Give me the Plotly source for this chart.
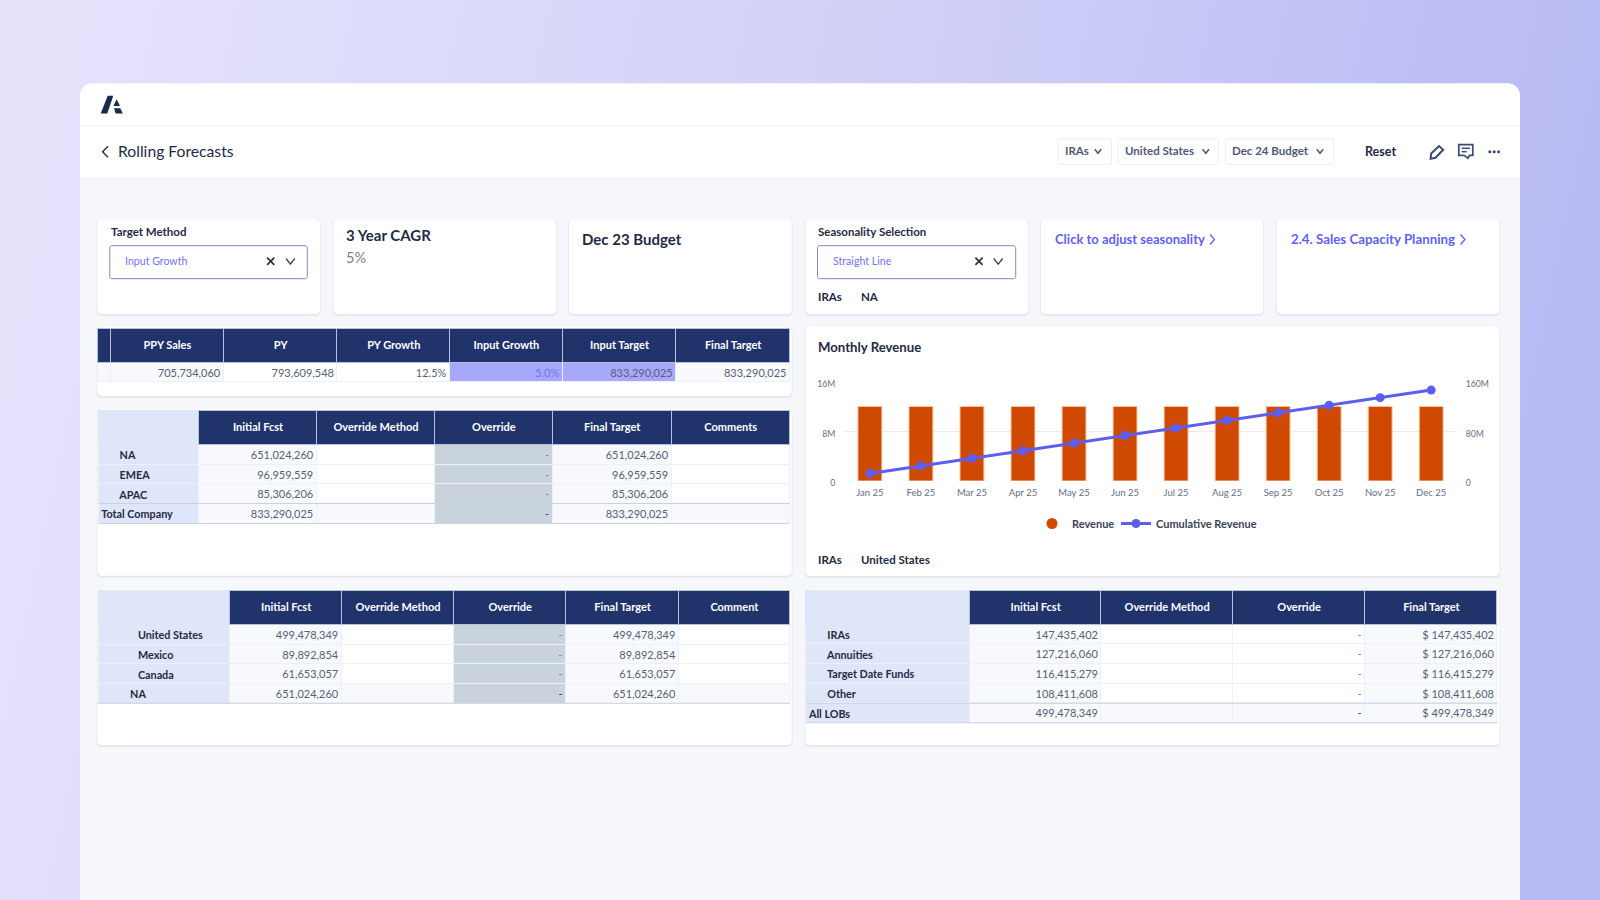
import base64
import plotly.graph_objects as go

# ---------- data ----------
months = ["Jan 25","Feb 25","Mar 25","Apr 25","May 25","Jun 25","Jul 25","Aug 25","Sep 25","Oct 25","Nov 25","Dec 25"]
revenue = [12100000]*12
cumulative = [12300000,24600000,36900000,49100000,61400000,73700000,86000000,98300000,110600000,122900000,135100000,147400000]

t1_head = ["","PPY Sales","PY","PY Growth","Input Growth","Input Target","Final Target"]
t1_row = ["","705,734,060","793,609,548","12.5%","5.0%","833,290,025","833,290,025"]

t2_head = ["","Initial Fcst","Override Method","Override","Final Target","Comments"]
t2_labels = ["NA","EMEA","APAC","Total Company"]
t2_init = ["651,024,260","96,959,559","85,306,206","833,290,025"]
t2_final = ["651,024,260","96,959,559","85,306,206","833,290,025"]

t3_head = ["","Initial Fcst","Override Method","Override","Final Target","Comment"]
t3_labels = ["United States","Mexico","Canada","NA"]
t3_init = ["499,478,349","89,892,854","61,653,057","651,024,260"]
t3_final = ["499,478,349","89,892,854","61,653,057","651,024,260"]

t4_head = ["","Initial Fcst","Override Method","Override","Final Target"]
t4_labels = ["IRAs","Annuities","Target Date Funds","Other","All LOBs"]
t4_init = ["147,435,402","127,216,060","116,415,279","108,411,608","499,478,349"]
t4_final = ["$ 147,435,402","$ 127,216,060","$ 116,415,279","$ 108,411,608","$ 499,478,349"]

# ---------- helpers ----------
W, H = 1600, 900
FONT = "Lato"
NAVY = "#20336b"; LBL = "#e0e6f9"; ALT = "#f7f9fd"; GREY = "#c9d3dc"; INK = "#1f2a44"; NUM = "#565f75"
PURPLE = "#5f61f2"; DASH = "#a565ef"; CLEAR = "rgba(0,0,0,0)"; ICON = "#3a4a70"
px = lambda x: x / W
py = lambda y: 1 - y / H
shapes, annos = [], []

def path(points, close=False):
    d = "M " + " L ".join(f"{px(x):.5f} {py(y):.5f}" for x, y in points)
    return d + (" Z" if close else "")

def poly(points, fill=None, line=None, width=1.5, close=False, layer="below"):
    shapes.append(dict(type="path", xref="paper", yref="paper", path=path(points, close), layer=layer,
                       fillcolor=fill or CLEAR, line=dict(color=line or CLEAR, width=width if line else 0)))

def rrect(x0, y0, x1, y1, r, fill, line=None, width=1, layer="below", square_bottom=False):
    k = 0.45 * r
    X, Y = px, py
    d = f"M {X(x0+r)} {Y(y0)} L {X(x1-r)} {Y(y0)} C {X(x1-k)} {Y(y0)} {X(x1)} {Y(y0+k)} {X(x1)} {Y(y0+r)} "
    if square_bottom:
        d += f"L {X(x1)} {Y(y1)} L {X(x0)} {Y(y1)} "
    else:
        d += (f"L {X(x1)} {Y(y1-r)} C {X(x1)} {Y(y1-k)} {X(x1-k)} {Y(y1)} {X(x1-r)} {Y(y1)} "
              f"L {X(x0+r)} {Y(y1)} C {X(x0+k)} {Y(y1)} {X(x0)} {Y(y1-k)} {X(x0)} {Y(y1-r)} ")
    d += f"L {X(x0)} {Y(y0+r)} C {X(x0)} {Y(y0+k)} {X(x0+k)} {Y(y0)} {X(x0+r)} {Y(y0)} Z"
    shapes.append(dict(type="path", xref="paper", yref="paper", path=d, layer=layer, fillcolor=fill,
                       line=dict(color=line or CLEAR, width=width if line else 0)))

def rect(x0, y0, x1, y1, fill, layer="below"):
    shapes.append(dict(type="rect", xref="paper", yref="paper", x0=px(x0), x1=px(x1), y0=py(y1), y1=py(y0),
                       fillcolor=fill, line=dict(width=0), layer=layer))

def circle(cx, cy, r, fill):
    shapes.append(dict(type="circle", xref="paper", yref="paper", x0=px(cx-r), x1=px(cx+r), y0=py(cy+r), y1=py(cy-r),
                       fillcolor=fill, line=dict(width=0), layer="below"))

def text(x, y, s, size=11, color=INK, bold=False, anchor="left"):
    annos.append(dict(xref="paper", yref="paper", x=px(x), y=py(y), text=f"<b>{s}</b>" if bold else s, showarrow=False,
                      xanchor=anchor, yanchor="middle", borderpad=0, borderwidth=0,
                      font=dict(family=FONT, size=size, color=color)))

def card(x0, y0, x1, y1):
    rrect(x0-1, y0, x1+1, y1+2.5, 5, "rgba(40,50,90,0.035)")
    rrect(x0-.5, y0, x1+.5, y1+1.2, 4, "rgba(40,50,90,0.05)")
    rrect(x0, y0, x1, y1, 4, "#ffffff")

def chevron(cx, cy, w=4, h=2.5, color="#4a5470", width=1.3):
    poly([(cx-w, cy-h), (cx, cy+h), (cx+w, cy-h)], line=color, width=width)

def cross(cx, cy, r=3.6):
    poly([(cx-r, cy-r), (cx+r, cy+r)], line="#2a3145", width=1.7)
    poly([(cx-r, cy+r), (cx+r, cy-r)], line="#2a3145", width=1.7)

def table(edges, top, bottom, head_h, row_h, head, columns, fills, colors, labels=None, indents=None):
    """edges: column edges in px. columns: value columns (no label column)."""
    n = len(edges) - 1
    nrows = len(columns[0])
    widths = [edges[i+1]-edges[i] for i in range(n)]
    hfills = [LBL if (labels is not None and i == 0) else NAVY for i in range(n)]
    hline = [LBL if (labels is not None and i == 0) else "#b7c0dd" for i in range(n)]
    dom = lambda dx, dy: dict(x=[px(edges[0]+dx), px(edges[-1]+dx)], y=[py(bottom+dy), py(top+dy)])
    # fills and lines
    data.append(go.Table(domain=dom(0, 0), columnwidth=widths,
        header=dict(values=[""]*n, height=head_h, fill=dict(color=hfills), line=dict(color=hline, width=1)),
        cells=dict(values=[[""]*nrows for _ in range(n)], height=row_h,
                   fill=dict(color=fills), line=dict(color="#edf0f8", width=1),
                   font=dict(family=FONT, size=11))))
    # header text, lowered to the middle of the header band
    data.append(go.Table(domain=dom(0.6, 4), columnwidth=widths,
        header=dict(values=head, height=head_h, align="center", fill=dict(color=CLEAR), line=dict(width=0),
                    font=dict(family=FONT, size=11, color="#ffffff", weight=700)),
        cells=dict(values=[[""] for _ in range(n)], height=row_h, fill=dict(color=CLEAR), line=dict(width=0))))
    # numbers, shifted towards the right edge of their cells
    vals = ([[""]*nrows] if labels is not None else []) + columns
    data.append(go.Table(domain=dom(5, -1.7), columnwidth=widths,
        header=dict(values=[""]*n, height=head_h, fill=dict(color=CLEAR), line=dict(width=0)),
        cells=dict(values=vals, height=row_h, align="right", fill=dict(color=CLEAR), line=dict(width=0),
                   font=dict(family=FONT, size=11, color=colors))))
    if labels is not None:
        lab = [("\u00a0"*k) + s for s, k in zip(labels, indents)]
        data.append(go.Table(domain=dict(x=[px(edges[0]-5), px(edges[1]-5)], y=[py(bottom-1.3), py(top-1.3)]), columnwidth=[1],
            header=dict(values=[""], height=head_h, fill=dict(color=CLEAR), line=dict(width=0)),
            cells=dict(values=[lab], height=row_h, align="left", fill=dict(color=CLEAR), line=dict(width=0),
                       font=dict(family=FONT, size=10.8, color=INK, weight=700))))

data = []

# ---------- page frame ----------
grad = ('<svg xmlns="http://www.w3.org/2000/svg" width="1600" height="900"><defs><linearGradient id="g" x1="0" y1="0" x2="1" y2="0.12">'
        '<stop offset="0" stop-color="#e6e4fc"/><stop offset="0.5" stop-color="#d3d3f8"/><stop offset="1" stop-color="#b8baf3"/>'
        '</linearGradient></defs><rect width="1600" height="900" fill="url(#g)"/></svg>')
bg = dict(source="data:image/svg+xml;base64," + base64.b64encode(grad.encode()).decode(), xref="paper", yref="paper",
          x=0, y=1, sizex=1, sizey=1, xanchor="left", yanchor="top", sizing="stretch", layer="below")

rrect(80, 83.5, 1520, 900, 12, "#f6f7fa", square_bottom=True)
rrect(80, 83.5, 1520, 177, 12, "#ffffff", square_bottom=True)
rect(80, 125, 1520, 126.6, "#f4f5f9")

# logo
poly([(100.7,113.6),(107.7,95.7),(113.3,95.7),(107.3,113.6)], fill="#1b2a4a", close=True)
poly([(116.7,99.3),(113.3,106),(120,106)], fill="#1b2a4a", close=True)
poly([(114,108.3),(120.3,108.3),(122.8,113.6),(115.7,113.6)], fill="#1b2a4a", close=True)
# title
poly([(108,146.2),(102.6,151.7),(108,157.2)], line="#2a3550", width=1.5)
text(117.5, 151, "Rolling Forecasts", 15.7, INK)

# header filters
for x0, x1, lab, cx in [(1058,1111.5,"IRAs",1098),(1118,1218.6,"United States",1205.8),(1225.7,1333.7,"Dec 24 Budget",1320)]:
    rrect(x0, 138.7, x1, 164.3, 2, "#ffffff", line="#ebeef6")
    text(x0+6.5, 150.9, lab, 11.5, "#4f5974", bold=True)
    chevron(cx, 151.2, 3.2, 2, width=1.5)
text(1365, 151, "Reset", 12.5, INK, bold=True)
# pencil
poly([(1430.6,158.8),(1431.2,153.5),(1439,146),(1443.2,149.8),(1435.5,157.8)], line=ICON, width=2, close=True)
# comment
poly([(1458.8,144.6),(1472.8,144.6),(1472.8,155.4),(1469.5,155.4),(1468,158.3),(1464,155.4),(1458.8,155.4)], line=ICON, width=1.7, close=True)
poly([(1461.7,148.3),(1470,148.3)], line=ICON, width=1.5)
poly([(1461.7,151.7),(1466.7,151.7)], line=ICON, width=1.5)
for cx in (1489.8, 1494.2, 1498.6):
    circle(cx, 151.7, 1.5, ICON)

# ---------- top cards ----------
for x0, x1 in [(97.4,320),(333.4,556),(569,791.7),(805.7,1028),(1041,1263.4),(1277,1499.4)]:
    card(x0, 219.3, x1, 314)
text(110.8, 231.6, "Target Method", 11.5, INK, bold=True)
rrect(109.8, 245.7, 307.3, 278.7, 2, "#ffffff", line="#7d8cc0")
text(125, 261, "Input Growth", 10.6, "#7273f5")
cross(270.7, 261.3); chevron(290.4, 261.3, 4.4, 2.8, "#3a4258")
text(346, 234.7, "3 Year CAGR", 15, INK, bold=True)
text(346, 258, "5%", 14.5, "#7d7f86")
text(581.5, 239.2, "Dec 23 Budget", 15, INK, bold=True)
text(818, 231.6, "Seasonality Selection", 11.5, INK, bold=True)
rrect(817.5, 245.7, 1015.7, 278.7, 2, "#ffffff", line="#7d8cc0")
text(833, 261, "Straight Line", 10.6, "#7273f5")
cross(979, 261.3); chevron(998.2, 261.3, 4.4, 2.8, "#3a4258")
text(818, 296.7, "IRAs", 11.5, INK, bold=True)
text(861, 296.7, "NA", 11.5, INK, bold=True)
text(1054.8, 239.4, "Click to adjust seasonality", 13, PURPLE, bold=True)
poly([(1210,234.5),(1214.5,239.5),(1210,244.5)], line=PURPLE, width=1.3)
text(1290.8, 239.4, "2.4. Sales Capacity Planning", 13.3, PURPLE, bold=True)
poly([(1460.5,234.5),(1465,239.5),(1460.5,244.5)], line=PURPLE, width=1.3)

# ---------- lower cards ----------
card(97.4, 327, 791.7, 396)
card(97.4, 409, 791.7, 575.7)
card(97.4, 589, 791.7, 745)
card(805.5, 327, 1499.6, 576)
card(805.5, 589, 1499.6, 745)

# ---------- chart ----------
text(818, 347.5, "Monthly Revenue", 13.2, INK, bold=True)
text(818, 559.2, "IRAs", 11.5, INK, bold=True)
text(861, 559.2, "United States", 11.5, INK, bold=True)

data.append(go.Bar(x=months, y=revenue, name="Revenue", width=0.47, showlegend=False,
                   marker=dict(color="#cf4a00", line=dict(color="#ffcdb0", width=1))))
data.append(go.Scatter(x=[months[0]], y=[None], name="Revenue", mode="markers",
                       marker=dict(color="#cf4a00", size=11, symbol="circle")))
data.append(go.Scatter(x=months, y=cumulative, name="Cumulative Revenue", yaxis="y2", mode="lines+markers", legend="legend2",
                       line=dict(color="#5b5ef0", width=3), marker=dict(color="#5b5ef0", size=9)))

# ---------- tables ----------
e1 = [97.4,110.3,223.3,337.1,449.6,562.5,676,789.8]
table(e1, 328.3, 395, 34, 19.4, t1_head, [[v] for v in t1_row],
      [["#f7f8fc"],[ALT],["#ffffff"],["#ffffff"],["#a8a8fb"],["#a8a8fb"],["#f9fafd"]],
      [[NUM],[NUM],[NUM],[NUM],["#7273f5"],[NUM],[NUM]])

def std_fills(n, rows, override=GREY):
    w = "#ffffff"
    cols = [[LBL]*rows, [ALT]*rows, [w]*(rows-1)+[ALT], [override]*rows if override else [w]*(rows-1)+[ALT], [ALT]*rows]
    if n == 6:
        cols.append([w]*(rows-1)+[ALT])
    return cols

dash = lambda rows: ["-"]*rows
dash_col = lambda rows: [DASH]*(rows-1)+["#3a4258"]
blank = lambda rows: [""]*rows

def total_line(edges, ys):
    for y in ys:
        rect(edges[0], y-.5, edges[-1], y+.5, "#ccd0e2", layer="above")

e2 = [98.2,198.7,316.4,434.7,552.4,671.5,789.7]
table(e2, 410.7, 575, 33.6, 19.7, t2_head,
      [t2_init, blank(4), dash(4), t2_final, blank(4)],
      std_fills(6,4), [[NUM]*4,[NUM]*4,[NUM]*4,dash_col(4),[NUM]*4,[NUM]*4],
      labels=t2_labels, indents=[7,7,7,0])
total_line(e2, [503.4, 523.6])

e3 = [98.2,230,341.4,453.7,566,678.8,789.7]
table(e3, 590.7, 744, 33.6, 19.7, t3_head,
      [t3_init, blank(4), dash(4), t3_final, blank(4)],
      std_fills(6,4), [[NUM]*4,[NUM]*4,[NUM]*4,dash_col(4),[NUM]*4,[NUM]*4],
      labels=t3_labels, indents=[14,14,14,11])
total_line(e3, [703.3])

e4 = [805.9,969.4,1101.2,1232.5,1365.2,1497.5]
table(e4, 590.7, 744, 33.6, 19.6, t4_head,
      [t4_init, blank(5), dash(5), t4_final],
      std_fills(5,5,override=None), [[NUM]*5,[NUM]*5,[NUM]*5,dash_col(5),[NUM]*5],
      labels=t4_labels, indents=[7,7,7,7,0])
total_line(e4, [703.3, 722.7])

# ---------- figure ----------
tick = dict(family=FONT, size=8.7, color="#666e85")
legend_font = dict(family=FONT, size=11, color="#3a4258", weight=700)
fig = go.Figure(data=data)
fig.update_layout(
    width=W, height=H, margin=dict(l=0, r=0, t=0, b=0, autoexpand=False), autosize=False,
    paper_bgcolor="#d3d3f8", plot_bgcolor=CLEAR, font=dict(family=FONT),
    images=[bg], shapes=shapes, annotations=annos, bargap=0.53,
    xaxis=dict(domain=[px(844.4), px(1456.7)], type="category", categoryorder="array", categoryarray=months,
               range=[-0.5, 11.5], showgrid=False, showline=False, zeroline=False, ticks="",
               tickfont=dict(family=FONT, size=9.5, color="#666e85"), ticklabelstandoff=4),
    yaxis=dict(domain=[py(481), py(382.3)], range=[0, 16000000], tickvals=[0, 8000000, 16000000], tickformat="~s",
               showgrid=True, gridcolor="#ffe6da", gridwidth=1, zeroline=False, showline=False, ticks="", tickfont=tick,
               ticklabelstandoff=8, ticklabelshift=2),
    yaxis2=dict(overlaying="y", side="right", range=[0, 160000000], tickvals=[0, 80000000, 160000000], tickformat="~s",
                showgrid=False, zeroline=False, showline=False, ticks="", tickfont=tick, ticklabelstandoff=8, ticklabelshift=2),
    legend=dict(orientation="h", x=px(1032), y=py(523.5), xanchor="left", yanchor="middle", bgcolor=CLEAR,
                font=legend_font, itemwidth=30),
    legend2=dict(orientation="h", x=px(1116), y=py(523.5), xanchor="left", yanchor="middle", bgcolor=CLEAR,
                 font=legend_font, itemwidth=30),
)
fig.write_html("out.html", config=dict(displayModeBar=False),
               post_script="document.body.style.margin='0';document.body.style.overflow='hidden';")
